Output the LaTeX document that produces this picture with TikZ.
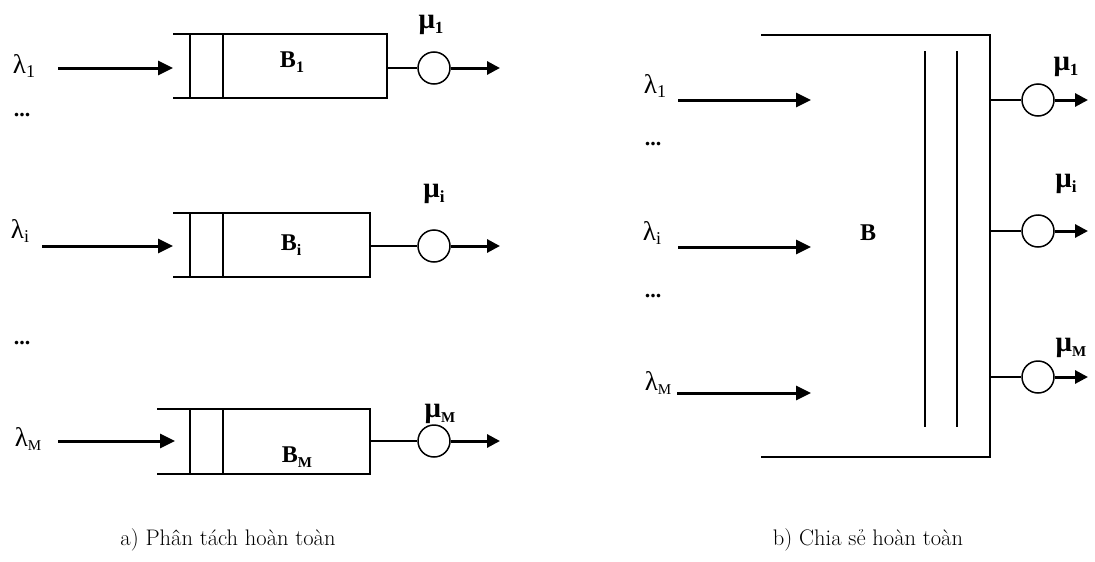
\documentclass[tikz,border=0pt]{standalone}
\usepackage{fontspec}
\newfontfamily\tms{Liberation Serif}
\usetikzlibrary{arrows.meta}
\newcommand{\sbs}[2]{\raisebox{-0.4ex}{\fontsize{#1}{#1}\selectfont #2}}
\begin{document}
\begin{tikzpicture}[x=1pt,y=-1pt,
  boxline/.style={line width=1.8pt},
  thinline/.style={line width=1.4pt},
  inarrow/.style={line width=3pt,-{Triangle[length=15pt,width=14pt]}},
  outarrow/.style={line width=3pt,-{Triangle[length=13pt,width=13pt]}},
  server/.style={circle,draw,line width=1.5pt,minimum size=32pt,inner sep=0pt},
  lab/.style={font=\tms\fontsize{27}{28}\selectfont,inner sep=0pt},
  mulab/.style={font=\tms\bfseries\fontsize{29}{30}\selectfont,inner sep=0pt},
  blab/.style={font=\tms\bfseries\fontsize{24}{26}\selectfont,inner sep=0pt},
  dotlab/.style={font=\tms\bfseries\fontsize{22}{24}\selectfont,inner sep=0pt},
  captext/.style={font=\fontsize{22.5}{26}\selectfont,inner sep=0pt}]
\useasboundingbox (0,0) rectangle (1095,562);
% ---------------- panel a ----------------
% queue 1
\coordinate (q1tl) at (173,34); \coordinate (q1tr) at (387,34);
\coordinate (q1bl) at (173,98); \coordinate (q1br) at (387,98);
\draw[boxline] (q1tl) -- (q1tr) -- (q1br) -- (q1bl);
\draw[boxline] (190,34) -- (190,98) (223,34) -- (223,98);
\coordinate (q1in) at (173,68); \coordinate (q1out) at (387,68);
\coordinate (a1s) at (58,68);
\node[server] (s1) at (434,68) {};
\coordinate (o1) at (500,68);
\draw[inarrow] (a1s) -- (q1in);
\draw[thinline] (q1out) -- (s1.west);
\draw[outarrow] (s1.east) -- (o1);
\node[lab] (l1) at (24,66) {λ\sbs{18}{1}};
\node[mulab] (m1) at (431,25) {μ\sbs{17}{1}};
\node[blab] (b1) at (292,62) {B\sbs{16}{1}};
\node[dotlab] (d1) at (22,115) {...};
% queue i
\coordinate (q2tl) at (173,213); \coordinate (q2tr) at (370,213);
\coordinate (q2bl) at (173,277); \coordinate (q2br) at (370,277);
\draw[boxline] (q2tl) -- (q2tr) -- (q2br) -- (q2bl);
\draw[boxline] (190,213) -- (190,277) (223,213) -- (223,277);
\coordinate (q2in) at (173,246); \coordinate (q2out) at (370,246);
\coordinate (a2s) at (42,246);
\node[server] (s2) at (434,246) {};
\coordinate (o2) at (500,246);
\draw[inarrow] (a2s) -- (q2in);
\draw[thinline] (q2out) -- (s2.west);
\draw[outarrow] (s2.east) -- (o2);
\node[lab] (l2) at (20,231) {λ\sbs{18}{i}};
\node[mulab] (m2) at (434,194) {μ\sbs{17}{i}};
\node[blab] (b2) at (291,245) {B\sbs{16}{i}};
\node[dotlab] (d2) at (22,343) {...};
% queue M
\coordinate (q3tl) at (157,409); \coordinate (q3tr) at (370,409);
\coordinate (q3bl) at (157,474); \coordinate (q3br) at (370,474);
\draw[boxline] (q3tl) -- (q3tr) -- (q3br) -- (q3bl);
\draw[boxline] (190,409) -- (190,474) (223,409) -- (223,474);
\coordinate (q3in) at (175,441); \coordinate (q3out) at (370,441);
\coordinate (a3s) at (58,441);
\node[server] (s3) at (434,441) {};
\coordinate (o3) at (500,441);
\draw[inarrow] (a3s) -- (q3in);
\draw[thinline] (q3out) -- (s3.west);
\draw[outarrow] (s3.east) -- (o3);
\node[lab] (l3) at (28,439) {λ\sbs{15}{M}};
\node[mulab] (m3) at (440,414) {μ\sbs{15}{M}};
\node[blab] (b3) at (297,457) {B\sbs{15}{M}};
% ---------------- panel b ----------------
\coordinate (bt) at (761,35); \coordinate (btr) at (990,35);
\coordinate (bb) at (761,457); \coordinate (bbr) at (990,457);
\draw[boxline] (bt) -- (btr) -- (bbr) -- (bb);
\draw[boxline] (925,51) -- (925,427) (957,51) -- (957,427);
\node[blab] (B) at (868,233) {B};
% inputs
\coordinate (r1s) at (678,100); \coordinate (r1e) at (811,100);
\coordinate (r2s) at (678,247); \coordinate (r2e) at (811,247);
\coordinate (r3s) at (677,393); \coordinate (r3e) at (811,393);
\draw[inarrow] (r1s) -- (r1e);
\draw[inarrow] (r2s) -- (r2e);
\draw[inarrow] (r3s) -- (r3e);
\node[lab] (rl1) at (655,86) {λ\sbs{18}{1}};
\node[dotlab] (rd1) at (653,144) {...};
\node[lab] (rl2) at (652,233) {λ\sbs{18}{i}};
\node[dotlab] (rd2) at (653,296) {...};
\node[lab] (rl3) at (658,383) {λ\sbs{15}{M}};
% outputs
\coordinate (p1) at (990,100); \coordinate (p2) at (990,231); \coordinate (p3) at (990,377);
\node[server] (t1) at (1038,100) {};
\node[server] (t2) at (1038,231) {};
\node[server] (t3) at (1038,377) {};
\coordinate (u1) at (1088,100); \coordinate (u2) at (1088,231); \coordinate (u3) at (1088,377);
\draw[thinline] (p1) -- (t1.west); \draw[outarrow] (t1.east) -- (u1);
\draw[thinline] (p2) -- (t2.west); \draw[outarrow] (t2.east) -- (u2);
\draw[thinline] (p3) -- (t3.west); \draw[outarrow] (t3.east) -- (u3);
\node[mulab] (n1) at (1066,67) {μ\sbs{17}{1}};
\node[mulab] (n2) at (1066,184) {μ\sbs{17}{i}};
\node[mulab] (n3) at (1071,348) {μ\sbs{15}{M}};
% captions
\node[captext] (ca) at (228,540) {a) Phân tách hoàn toàn};
\node[captext] (cb) at (868,540) {b) Chia sẻ hoàn toàn};
\end{tikzpicture}
\end{document}
